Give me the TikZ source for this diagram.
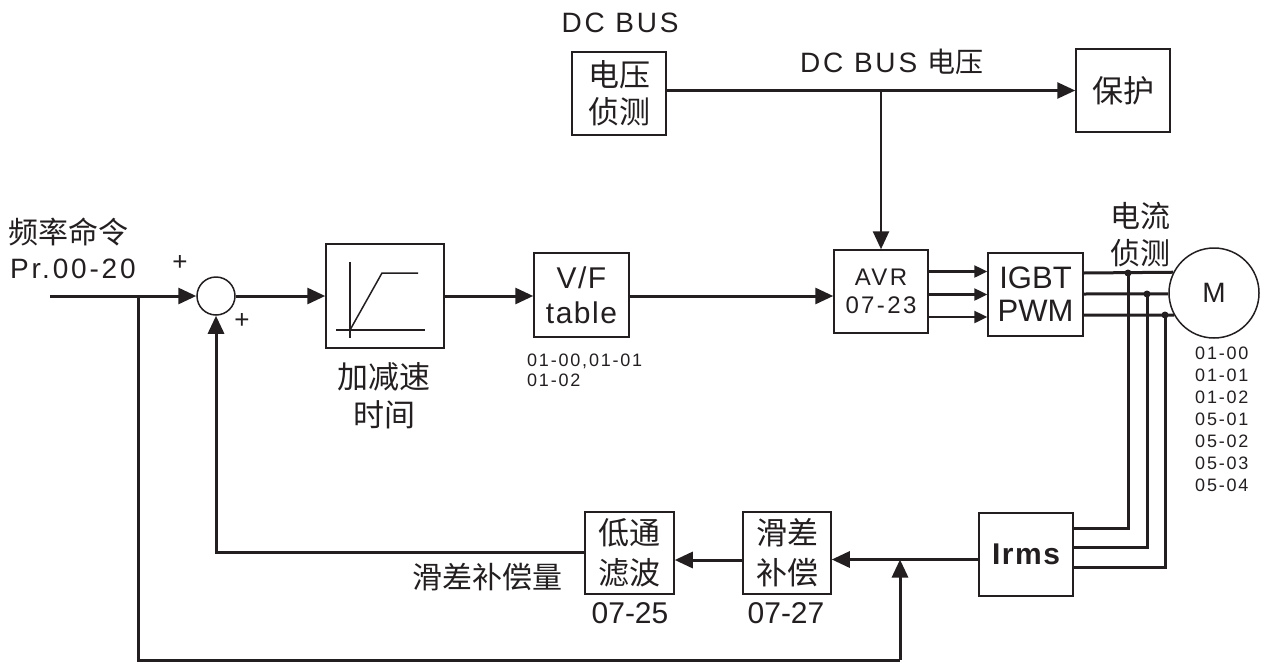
\documentclass[tikz,border=0pt]{standalone}
\usepackage{fontspec}
\setmainfont{Liberation Sans}
\newfontfamily\cjk{Noto Sans CJK SC}
\newfontfamily\spc[LetterSpace=10]{Liberation Sans}
\newfontfamily\spf[LetterSpace=5]{Liberation Sans}
\usetikzlibrary{arrows.meta,calc}
\definecolor{ink}{HTML}{231F20}
\newcommand\fs[2]{\fontsize{#1}{#2}\selectfont}
\begin{document}
\begin{tikzpicture}[x=1pt,y=-1pt,
 box/.style={draw=ink,line width=1.5pt,minimum width=94pt,minimum height=83pt,inner sep=0pt,align=center,text=ink},
 arr/.style={draw=ink,line width=3pt,-{Triangle[length=18pt,width=16pt]}},
 sarr/.style={draw=ink,line width=2.4pt,-{Triangle[length=13pt,width=12pt]}},
 wire/.style={draw=ink,line width=3pt},
 lbl/.style={text=ink,inner sep=0pt},
 thin/.style={draw=ink,line width=1.5pt},
]
\useasboundingbox[fill=white] (0,0) rectangle (1268,664);

% boxes
\node[box,font={\cjk\fs{31}{37}}] (vdet) at (619,93.5) {电压\\侦测};
\node[box,font={\cjk\fs{31}{37}}] (prot) at (1123,90.5) {保护};
\node[box,font={\spc\fs{24}{28}}] (avr) at (881,291.5) {AVR\\07-23};
\node[box,minimum width=95pt,font={\fs{31}{33}}] (igbt) at (1035.5,294.5) {IGBT\\PWM};
\node[box,font={\bfseries\spf\fs{30}{36}}] (irms) at (1026,554.5) {Irms};
\node[box,minimum width=88pt,minimum height=82pt,font={\cjk\fs{31}{40}}] (slip) at (787,553) {滑差\\补偿};
\node[box,minimum width=89pt,minimum height=82pt,font={\cjk\fs{31}{40}}] (lpf) at (629.5,553) {低通\\滤波};
\node[box,minimum width=118pt,minimum height=104pt] (ramp) at (385,296) {};
\node[box,minimum width=95pt,minimum height=84pt,font={\spf\fs{30}{35}}] (vf) at (581.5,295) {V/F\\table};
\node[thin,circle,minimum size=38pt,inner sep=0pt] (sum) at (216,296) {};
\node[thin,circle,minimum size=90pt,inner sep=0pt,font=\fs{28}{30},text=ink] (motor) at (1214,293) {M};

% ramp symbol
\draw[thin] (350,262) -- (350,338);
\draw[thin] (336,330) -- (425,330);
\draw[thin] (350,330) -- (382,273) -- (418,273);

% coordinates
\coordinate (in) at (50,296);
\coordinate (b1) at (138,296);
\coordinate (fb) at (900,660);
\coordinate (j1) at (1128,273);
\coordinate (j2) at (1147,294);
\coordinate (j3) at (1165,315);

% main forward path
\draw[arr] (in) -- (sum.west);
\draw[arr] (sum.east) -- (sum.east -| ramp.west);
\draw[arr] (sum.east -| ramp.east) -- (sum.east -| vf.west);
\draw[arr] (sum.east -| vf.east) -- (sum.east -| avr.west);

% DC bus
\draw[arr,line width=2.6pt] (vdet.east |- prot.west) -- (prot.west);
\draw[arr,line width=2.6pt] (avr.north |- prot.west) -- (avr.north);

% AVR -> IGBT
\draw[sarr] ([yshift=23pt]igbt.west -| avr.east) -- ([yshift=23pt]igbt.west);
\draw[sarr] ([yshift=0pt]igbt.west -| avr.east) -- ([yshift=0pt]igbt.west);
\draw[sarr] ([yshift=-22.5pt]igbt.west -| avr.east) -- ([yshift=-22.5pt]igbt.west);

% IGBT -> motor
\draw[wire] (igbt.east |- j1) -- (motor.153.6);
\draw[wire] (igbt.east |- j2) -- (motor.181.3);
\draw[wire] (igbt.east |- j3) -- (motor.209.3);
\fill[ink] (j1) circle (3.5pt) (j2) circle (3.5pt) (j3) circle (3.5pt);

% current sensing to Irms
\draw[wire] (j1) |- ([yshift=26pt]irms.east);
\draw[wire] (j2) |- ([yshift=7pt]irms.east);
\draw[wire] (j3) |- ([yshift=-12.5pt]irms.east);

% feedback path
\path ([yshift=-5pt]irms.west) coordinate (iw);
\draw[arr] (iw) -- (iw -| slip.east);
\draw[arr] ([yshift=-7pt]slip.west) -- ([yshift=-7pt]slip.west -| lpf.east);
\draw[arr] ([yshift=1pt]lpf.west) -| (sum.south);
\draw[wire] (b1) |- (fb);
\draw[arr] (fb) -- (fb |- iw);

% labels
\node[lbl,font={\spc\fs{28}{30}}] (dcbus) at (620,23) {DC BUS};
\node[lbl,font={\spc\fs{28}{30}}] (dcv) at (892,62) {DC BUS {\cjk 电压}};
\node[lbl,font={\cjk\fs{30}{32}},anchor=west] (freq) at (8,232) {频率命令};
\node[lbl,font={\spc\fs{28}{30}},anchor=west] (pr) at (10,269) {Pr.00-20};
\node[lbl,font=\fs{26}{28}] (p1) at (180,263) {+};
\node[lbl,font=\fs{26}{28}] (p2) at (242,321) {+};
\node[lbl,font={\cjk\fs{31}{38}},align=center] (acc) at (384,396) {加减速\\时间};
\node[lbl,font={\spc\fs{18}{20}},anchor=north west,align=left] (vfp) at (527,354) {01-00,01-01\\01-02};
\node[lbl,font={\cjk\fs{30}{37}},align=center] (cur) at (1140,235) {电流\\侦测};
\node[lbl,font={\spc\fs{18}{22}},anchor=north west,align=left] (mp) at (1195,347) {01-00\\01-01\\01-02\\05-01\\05-02\\05-03\\05-04};
\node[lbl,font=\fs{30}{32}] (c25) at (630,613) {07-25};
\node[lbl,font=\fs{30}{32}] (c27) at (786,613) {07-27};
\node[lbl,font={\cjk\fs{30}{32}}] (slq) at (487,577) {滑差补偿量};
\end{tikzpicture}
\end{document}
